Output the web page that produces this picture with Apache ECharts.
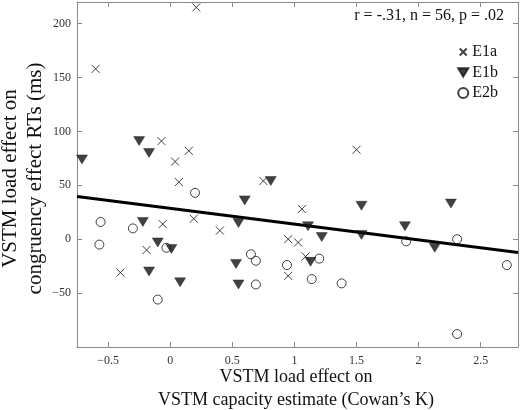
<!DOCTYPE html>
<html><head><meta charset="utf-8">
<script src="https://cdn.jsdelivr.net/npm/echarts@6/dist/echarts.min.js"></script>
<style>html,body{margin:0;padding:0;background:#fff}#c{width:520px;height:410px}</style>
</head><body><div id="c"></div>
<script>
// E1a (x markers): [x, y]
const e1a = [[-0.60,158],[0.21,215],[-0.07,91],[0.04,72],[0.15,82],[0.07,53],[0.19,19],[-0.06,14],[-0.19,-10],[-0.40,-31],[0.40,8],[0.75,54],[0.95,0],[0.95,-34],[1.06,28],[1.03,-3],[1.09,-16],[1.50,83]];
// E1b (filled down-triangles)
const e1b = [[-0.71,74],[-0.25,91],[-0.17,80],[-0.22,16],[-0.10,-3],[0.01,-9],[-0.17,-30],[0.08,-40],[0.60,36],[0.55,15],[0.53,-23],[0.55,-42],[0.81,54],[1.11,12],[1.22,2],[1.13,-21],[1.54,31],[1.54,4],[1.89,12],[2.13,-8],[2.26,33]];
// E2b (open circles)
const e2b = [[-0.56,16],[-0.57,-5],[-0.30,10],[-0.03,-8],[-0.10,-56],[0.20,43],[0.65,-14],[0.69,-20],[0.69,-42],[0.94,-24],[1.20,-18],[1.14,-37],[1.38,-41],[1.90,-2],[2.31,0],[2.71,-24],[2.31,-88]];
// regression line endpoints
const fitX = [-0.75, 2.8];
const fitY = [39.5, -12.4];
const xTicks = [-0.5, 0, 0.5, 1, 1.5, 2, 2.5];
const yTicks = [-50, 0, 50, 100, 150, 200];

const serif = 'Liberation Serif';
const frame = '#8a8a8a';
const fmt = v => String(v).replace('-', '\u2212');
function xAx(pos, labels) {
  return {type:'value', position:pos, min:-0.75, max:2.8,
    axisLine:{show:true, onZero:false, lineStyle:{color:frame, width:1}},
    axisTick:{show:true, inside:true, length:5, customValues:xTicks, lineStyle:{color:frame}},
    axisLabel:{show:labels, customValues:xTicks, formatter:fmt, margin:8, color:'#333', fontFamily:serif, fontSize:12},
    splitLine:{show:false}};
}
function yAx(pos, labels) {
  return {type:'value', position:pos, min:-100, max:220,
    axisLine:{show:true, onZero:false, lineStyle:{color:frame, width:1}},
    axisTick:{show:true, inside:true, length:5, customValues:yTicks, lineStyle:{color:frame}},
    axisLabel:{show:labels, customValues:yTicks, formatter:fmt, margin:6, color:'#333', fontFamily:serif, fontSize:12},
    splitLine:{show:false}};
}
const chart = echarts.init(document.getElementById('c'), null, {renderer:'canvas'});
chart.setOption({
  animation:false,
  grid:{left:77, right:2, top:2, bottom:63, containLabel:false},
  xAxis:[xAx('bottom', true), xAx('top', false)],
  yAxis:[yAx('left', true), yAx('right', false)],
  legend:{orient:'vertical', right:17, top:39, align:'left', itemGap:4.5, itemWidth:10, itemHeight:10,
    textStyle:{fontFamily:serif, fontSize:16, color:'#111', padding:[0,0,0,-1]},
    data:[
      {name:'E1a', icon:'path://M0,0M10,10M1.5,1.5L8.5,8.5M8.5,1.5L1.5,8.5'},
      {name:'E1b'},
      {name:'E2b'}
    ]},
  graphic:[
    {type:'text', right:16, top:8, style:{text:'r = -.31, n = 56, p = .02', font:'16px "Liberation Serif"', fill:'#111'}},
    {type:'text', x:10, y:178.5, rotation:Math.PI/2, style:{text:'VSTM load effect on', font:'21px "Liberation Serif"', fill:'#111', align:'center', verticalAlign:'middle'}},
    {type:'text', x:35, y:178.5, rotation:Math.PI/2, style:{text:'congruency effect RTs (ms)', font:'21px "Liberation Serif"', fill:'#111', align:'center', verticalAlign:'middle'}},
    {type:'text', x:296, y:377, style:{text:'VSTM load effect on', font:'18px "Liberation Serif"', fill:'#111', align:'center', verticalAlign:'middle'}},
    {type:'text', x:296, y:400, style:{text:'VSTM capacity estimate (Cowan\u2019s K)', font:'18px "Liberation Serif"', fill:'#111', align:'center', verticalAlign:'middle'}}
  ],
  series:[
    {name:'fit', type:'line', data:fitX.map((x,i)=>[x,fitY[i]]), symbol:'none', lineStyle:{color:'#000', width:3}, z:1, silent:true},
    {name:'E1a', type:'scatter', data:e1a, symbol:'path://M0,0L10,10M10,0L0,10', symbolSize:8,
      itemStyle:{color:'none', borderColor:'#111', borderWidth:1}, z:3},
    {name:'E1b', type:'scatter', data:e1b, symbol:'path://M0,0L12,0L6,10Z', symbolSize:[11,9],
      itemStyle:{color:'#111', borderColor:'#111', borderWidth:0.5}, z:3},
    {name:'E2b', type:'scatter', data:e2b, symbol:'circle', symbolSize:9,
      itemStyle:{color:'none', borderColor:'#111', borderWidth:1}, z:3}
  ]
});
</script></body></html>
